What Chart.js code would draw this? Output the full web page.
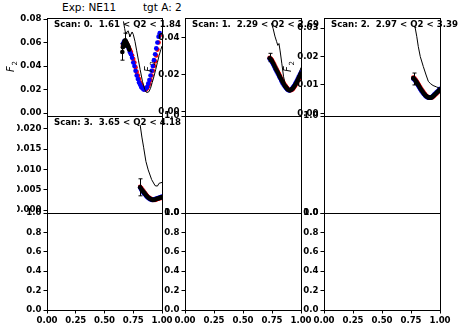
<!DOCTYPE html>
<html>
<head>
<meta charset="utf-8">
<script src="https://cdn.jsdelivr.net/npm/chart.js@4.4.0/dist/chart.umd.min.js"></script>
<style>
  html, body { margin: 0; padding: 0; background: #fff; }
  #fig { position: relative; width: 464px; height: 326px; overflow: hidden; }
  #fig canvas { position: absolute; left: 0; top: 0; }
  .head { position: absolute; top: 1px; font: 10.5px "DejaVu Sans", sans-serif; color: #000; white-space: nowrap; }
</style>
</head>
<body>
<div id="fig">
  <div class="head" style="left:62px">Exp: NE11</div>
  <div class="head" style="left:143px">tgt A: 2</div>
</div>
<script>
// Tick values
const xTicks = [0, 0.25, 0.5, 0.75, 1.0];
const unitTicks = [0, 0.2, 0.4, 0.6, 0.8, 1.0];
const edgeTicks = [0, 1.0];
const scan0Ticks = [0, 0.02, 0.04, 0.06, 0.08];
const scan1Ticks = [0, 0.02, 0.04];
const scan2Ticks = [0, 0.01, 0.02, 0.03];
const scan3Ticks = [0, 0.005, 0.01, 0.015, 0.02];

// Scan 0 : 1.61 < Q2 < 1.84
const scan0X = [0.66, 0.67, 0.68, 0.69, 0.70, 0.71, 0.72, 0.73, 0.74, 0.75, 0.76, 0.77, 0.78, 0.79, 0.80, 0.81, 0.82,
  0.83, 0.84, 0.85, 0.86, 0.87, 0.88, 0.89, 0.90, 0.91, 0.92, 0.93, 0.94, 0.95, 0.96, 0.97, 0.98];
const scan0Red = [0.057, 0.060, 0.061, 0.060, 0.058, 0.056, 0.054, 0.052, 0.049, 0.046, 0.043, 0.039, 0.035, 0.032, 0.029, 0.026, 0.024,
  0.022, 0.021, 0.020, 0.020, 0.021, 0.023, 0.025, 0.028, 0.032, 0.036, 0.040, 0.044, 0.049, 0.054, 0.060, 0.066];
const scan0Blue = [0.059, 0.061, 0.061, 0.059, 0.057, 0.055, 0.052, 0.050, 0.047, 0.043, 0.040, 0.036, 0.032, 0.029, 0.026, 0.024, 0.022,
  0.021, 0.020, 0.020, 0.021, 0.022, 0.025, 0.028, 0.032, 0.036, 0.040, 0.045, 0.050, 0.055, 0.060, 0.065, 0.068];
const scan0DataX = [0.655, 0.66, 0.665, 0.67, 0.675, 0.68, 0.685, 0.69, 0.695, 0.70, 0.705, 0.71, 0.715];
const scan0Data = [0.052, 0.056, 0.058, 0.060, 0.061, 0.062, 0.061, 0.060, 0.059, 0.058, 0.057, 0.056, 0.054];
const scan0ErrX = [0.655, 0.68];
const scan0ErrLo = [0.045, 0.056];
const scan0ErrHi = [0.059, 0.068];
const scan0ModelX = [0.665, 0.675, 0.685, 0.695, 0.705, 0.715, 0.72, 0.73, 0.74, 0.75, 0.765, 0.78, 0.795, 0.81, 0.83,
  0.85, 0.86, 0.87, 0.885, 0.90, 0.915, 0.93, 0.945, 0.96, 0.975, 0.99, 1.0];
const scan0Model = [0.078, 0.072, 0.067, 0.069, 0.070, 0.067, 0.065, 0.067, 0.069, 0.067, 0.061, 0.053, 0.045, 0.037, 0.027,
  0.020, 0.018, 0.0175, 0.018, 0.021, 0.026, 0.031, 0.037, 0.043, 0.049, 0.054, 0.057];

// Scan 1 : 2.29 < Q2 < 2.69
const scan1X = [0.73, 0.74, 0.75, 0.76, 0.77, 0.78, 0.79, 0.80, 0.81, 0.82, 0.83, 0.84, 0.85, 0.86,
  0.87, 0.88, 0.89, 0.90, 0.91, 0.92, 0.93, 0.94, 0.95, 0.96, 0.97, 0.98, 0.99, 1.00];
const scan1Data = [0.0290, 0.0284, 0.0275, 0.0263, 0.0250, 0.0237, 0.0225, 0.0213, 0.0200, 0.0188, 0.0175, 0.0163, 0.0152, 0.0142,
  0.0134, 0.0126, 0.0120, 0.0117, 0.0118, 0.0122, 0.0128, 0.0137, 0.0147, 0.0158, 0.0170, 0.0183, 0.0196, 0.0208];
const scan1Red = [0.0293, 0.0288, 0.0281, 0.0269, 0.0256, 0.0243, 0.0231, 0.0219, 0.0206, 0.0194, 0.0181, 0.0169, 0.0157, 0.0147,
  0.0138, 0.0130, 0.0123, 0.0119, 0.0117, 0.0119, 0.0124, 0.0132, 0.0141, 0.0152, 0.0164, 0.0176, 0.0189, 0.0202];
const scan1Blue = [0.0287, 0.0279, 0.0269, 0.0257, 0.0244, 0.0231, 0.0219, 0.0207, 0.0194, 0.0182, 0.0169, 0.0157, 0.0147, 0.0138,
  0.0130, 0.0122, 0.0118, 0.0116, 0.0120, 0.0125, 0.0133, 0.0142, 0.0153, 0.0164, 0.0177, 0.0190, 0.0202, 0.0214];
const scan1ErrX = [0.73];
const scan1ErrLo = [0.0272];
const scan1ErrHi = [0.0317];
const scan1ModelX = [0.745, 0.76, 0.775, 0.79, 0.80, 0.81, 0.82, 0.835, 0.85, 0.865, 0.88, 0.895, 0.91, 0.93, 0.95, 0.97, 0.99, 1.0];
const scan1Model = [0.048, 0.045, 0.041, 0.038, 0.036, 0.037, 0.033, 0.026, 0.019, 0.0145, 0.0118, 0.0108, 0.011, 0.0135, 0.0158, 0.019, 0.022, 0.024];

// Scan 2 : 2.97 < Q2 < 3.39
const scan2X = [0.77, 0.78, 0.79, 0.80, 0.81, 0.82, 0.83, 0.84, 0.85, 0.86, 0.87, 0.88,
  0.89, 0.90, 0.91, 0.92, 0.93, 0.94, 0.95, 0.96, 0.97, 0.98, 0.99, 1.00];
const scan2Data = [0.0124, 0.0120, 0.0115, 0.0109, 0.0102, 0.0095, 0.0088, 0.0082, 0.0076, 0.0070, 0.0065, 0.0061,
  0.0058, 0.0056, 0.0055, 0.0055, 0.0057, 0.0060, 0.0064, 0.0068, 0.0072, 0.0076, 0.0080, 0.0084];
const scan2Red = [0.0126, 0.0123, 0.0118, 0.0112, 0.0106, 0.0099, 0.0092, 0.0085, 0.0079, 0.0073, 0.0068, 0.0063,
  0.0059, 0.0057, 0.0055, 0.0055, 0.0056, 0.0058, 0.0062, 0.0066, 0.0070, 0.0074, 0.0078, 0.0082];
const scan2Blue = [0.0122, 0.0118, 0.0112, 0.0106, 0.0099, 0.0092, 0.0085, 0.0079, 0.0073, 0.0068, 0.0063, 0.0059,
  0.0057, 0.0055, 0.0055, 0.0056, 0.0058, 0.0062, 0.0066, 0.0070, 0.0074, 0.0078, 0.0082, 0.0086];
const scan2ErrX = [0.775];
const scan2ErrLo = [0.0100];
const scan2ErrHi = [0.0142];
const scan2ModelX = [0.784, 0.80, 0.813, 0.83, 0.856, 0.88, 0.90, 0.92, 0.94, 0.97, 1.0];
const scan2Model = [0.0306, 0.027, 0.0235, 0.020, 0.0165, 0.0135, 0.0112, 0.0104, 0.0098, 0.0093, 0.0088];

// Scan 3 : 3.65 < Q2 < 4.18
const scan3X = [0.81, 0.82, 0.83, 0.84, 0.85, 0.86, 0.87, 0.88, 0.89, 0.90,
  0.91, 0.92, 0.93, 0.94, 0.95, 0.96, 0.97, 0.98, 0.99, 1.00];
const scan3Data = [0.0056, 0.0052, 0.0048, 0.0044, 0.0041, 0.0037, 0.0034, 0.0031, 0.0029, 0.0027,
  0.0026, 0.0025, 0.0025, 0.0026, 0.0027, 0.0028, 0.0029, 0.0030, 0.0031, 0.0032];
const scan3Red = [0.0057, 0.0054, 0.0050, 0.0046, 0.0042, 0.0039, 0.0035, 0.0032, 0.0030, 0.0028,
  0.0026, 0.0025, 0.0025, 0.0025, 0.0026, 0.0027, 0.0028, 0.0029, 0.0030, 0.0031];
const scan3Blue = [0.0055, 0.0050, 0.0046, 0.0042, 0.0039, 0.0035, 0.0032, 0.0030, 0.0028, 0.0026,
  0.0025, 0.0025, 0.0026, 0.0027, 0.0028, 0.0029, 0.0030, 0.0031, 0.0032, 0.0033];
const scan3ErrX = [0.81];
const scan3ErrLo = [0.0035];
const scan3ErrHi = [0.0077];
const scan3ModelX = [0.81, 0.825, 0.84, 0.86, 0.88, 0.91, 0.94, 0.96, 0.975, 1.0];
const scan3Model = [0.021, 0.018, 0.0155, 0.012, 0.0099, 0.0075, 0.006, 0.0059, 0.0066, 0.0068];

// Layout of the 3x3 grid (pixels)
const W = 464, H = 326;
const colLeft = [47, 185, 324];
const colRight = [162, 301, 440];
const rowTop = [18, 116, 213];
const rowBottom = [116, 213, 310];
const yAxisW = 30, xAxisH = 18;
const tickFont = { family: 'DejaVu Sans', size: 8.6, weight: 'bold' };

const fig = document.getElementById('fig');

function pairs(xs, ys) {
  return xs.map((x, i) => ({ x: x, y: ys[i] }));
}

function dots(xs, ys, color) {
  return {
    data: pairs(xs, ys),
    pointRadius: 2.3,
    pointBackgroundColor: color,
    pointBorderWidth: 0,
    showLine: false
  };
}

function curve(xs, ys) {
  return {
    data: pairs(xs, ys),
    showLine: true,
    pointRadius: 0,
    borderColor: '#000',
    borderWidth: 1,
    fill: false
  };
}

function makePanel(p) {
  const canvas = document.createElement('canvas');
  canvas.width = W;
  canvas.height = H;
  fig.appendChild(canvas);

  const showX = p.row === 2;
  // first dataset is drawn on top: model line, data, blue, red
  const datasets = [];
  if (p.model) datasets.push(curve(p.modelX, p.model));
  if (p.data) datasets.push(dots(p.dataX || p.x, p.data, '#000000'));
  if (p.blue) datasets.push(dots(p.x, p.blue, '#0000ff'));
  if (p.red) datasets.push(dots(p.x, p.red, '#ff0000'));

  const deco = {
    id: 'deco',
    afterDatasetsDraw(chart) {
      if (!p.errX) return;
      const ctx = chart.ctx, xs = chart.scales.x, ys = chart.scales.y;
      ctx.save();
      ctx.strokeStyle = '#000';
      ctx.lineWidth = 1;
      p.errX.forEach((x, i) => {
        const px = Math.round(xs.getPixelForValue(x)) + 0.5;
        const lo = ys.getPixelForValue(p.errLo[i]);
        const hi = ys.getPixelForValue(p.errHi[i]);
        ctx.beginPath();
        ctx.moveTo(px, lo); ctx.lineTo(px, hi);
        ctx.moveTo(px - 2, lo); ctx.lineTo(px + 2, lo);
        ctx.moveTo(px - 2, hi); ctx.lineTo(px + 2, hi);
        ctx.stroke();
      });
      ctx.restore();
    },
    afterDraw(chart) {
      const ctx = chart.ctx, a = chart.chartArea;
      ctx.save();
      ctx.strokeStyle = '#000';
      ctx.lineWidth = 1;
      ctx.strokeRect(Math.round(a.left) + 0.5, Math.round(a.top) + 0.5,
        Math.round(a.right - a.left), Math.round(a.bottom - a.top));
      ctx.fillStyle = '#000';
      if (p.label) {
        ctx.font = 'bold 8.6px "DejaVu Sans"';
        ctx.textBaseline = 'top';
        ctx.textAlign = 'left';
        ctx.fillText(p.label, a.left + 7, a.top + 2);
      }
      if (p.ylab) {
        ctx.translate(a.left - 36, (a.top + a.bottom) / 2);
        ctx.rotate(-Math.PI / 2);
        ctx.textBaseline = 'alphabetic';
        ctx.textAlign = 'left';
        ctx.font = 'italic 10px "DejaVu Sans"';
        ctx.fillText('F', -5, 3);
        ctx.font = '7px "DejaVu Sans"';
        ctx.fillText('2', 1.5, 5.5);
      }
      ctx.restore();
    }
  };

  new Chart(canvas, {
    type: 'scatter',
    data: { datasets: datasets },
    options: {
      responsive: false,
      animation: false,
      devicePixelRatio: 1,
      layout: {
        padding: {
          left: colLeft[p.col] - yAxisW,
          right: W - colRight[p.col],
          top: rowTop[p.row],
          bottom: H - rowBottom[p.row] - (showX ? xAxisH : 0)
        }
      },
      plugins: { legend: { display: false }, tooltip: { enabled: false } },
      scales: {
        x: {
          type: 'linear',
          min: 0,
          max: 1,
          display: showX,
          afterFit: s => { s.height = showX ? xAxisH : 0; },
          afterBuildTicks: s => { s.ticks = xTicks.map(v => ({ value: v })); },
          ticks: {
            font: tickFont, color: '#000', padding: 2, maxRotation: 0, autoSkip: false,
            callback: v => Number(v).toFixed(2)
          },
          grid: { display: true, drawOnChartArea: false, tickLength: 3.5, color: '#000' },
          border: { display: false }
        },
        y: {
          type: 'linear',
          min: p.yMin,
          max: p.yMax,
          afterFit: s => { s.width = yAxisW; },
          afterBuildTicks: s => { s.ticks = p.yTicks.map(v => ({ value: v })); },
          ticks: {
            font: tickFont, color: '#000', padding: 2, autoSkip: false,
            callback: v => Number(v).toFixed(p.dec)
          },
          grid: { display: true, drawOnChartArea: false, tickLength: 3.5, color: '#000' },
          border: { display: false }
        }
      }
    },
    plugins: [deco]
  });
}

const panels = [
  { row: 0, col: 0, label: 'Scan: 0.  1.61 < Q2 < 1.84', ylab: true, yMin: -0.00255, yMax: 0.0809, yTicks: scan0Ticks, dec: 2,
    x: scan0X, red: scan0Red, blue: scan0Blue, dataX: scan0DataX, data: scan0Data,
    errX: scan0ErrX, errLo: scan0ErrLo, errHi: scan0ErrHi, modelX: scan0ModelX, model: scan0Model },
  { row: 0, col: 1, label: 'Scan: 1.  2.29 < Q2 < 2.69', ylab: true, yMin: -0.0022, yMax: 0.0508, yTicks: scan1Ticks, dec: 2,
    x: scan1X, red: scan1Red, blue: scan1Blue, data: scan1Data,
    errX: scan1ErrX, errLo: scan1ErrLo, errHi: scan1ErrHi, modelX: scan1ModelX, model: scan1Model },
  { row: 0, col: 2, label: 'Scan: 2.  2.97 < Q2 < 3.39', ylab: true, yMin: -0.00095, yMax: 0.0336, yTicks: scan2Ticks, dec: 2,
    x: scan2X, red: scan2Red, blue: scan2Blue, data: scan2Data,
    errX: scan2ErrX, errLo: scan2ErrLo, errHi: scan2ErrHi, modelX: scan2ModelX, model: scan2Model },
  { row: 1, col: 0, label: 'Scan: 3.  3.65 < Q2 < 4.18', yMin: -0.00074, yMax: 0.0232, yTicks: scan3Ticks, dec: 3,
    x: scan3X, red: scan3Red, blue: scan3Blue, data: scan3Data,
    errX: scan3ErrX, errLo: scan3ErrLo, errHi: scan3ErrHi, modelX: scan3ModelX, model: scan3Model },
  { row: 1, col: 1, yMin: 0, yMax: 1, yTicks: edgeTicks, dec: 1 },
  { row: 1, col: 2, yMin: 0, yMax: 1, yTicks: edgeTicks, dec: 1 },
  { row: 2, col: 0, yMin: 0, yMax: 1, yTicks: unitTicks, dec: 1 },
  { row: 2, col: 1, yMin: 0, yMax: 1, yTicks: unitTicks, dec: 1 },
  { row: 2, col: 2, yMin: 0, yMax: 1, yTicks: unitTicks, dec: 1 }
];

panels.forEach(makePanel);
</script>
</body>
</html>
